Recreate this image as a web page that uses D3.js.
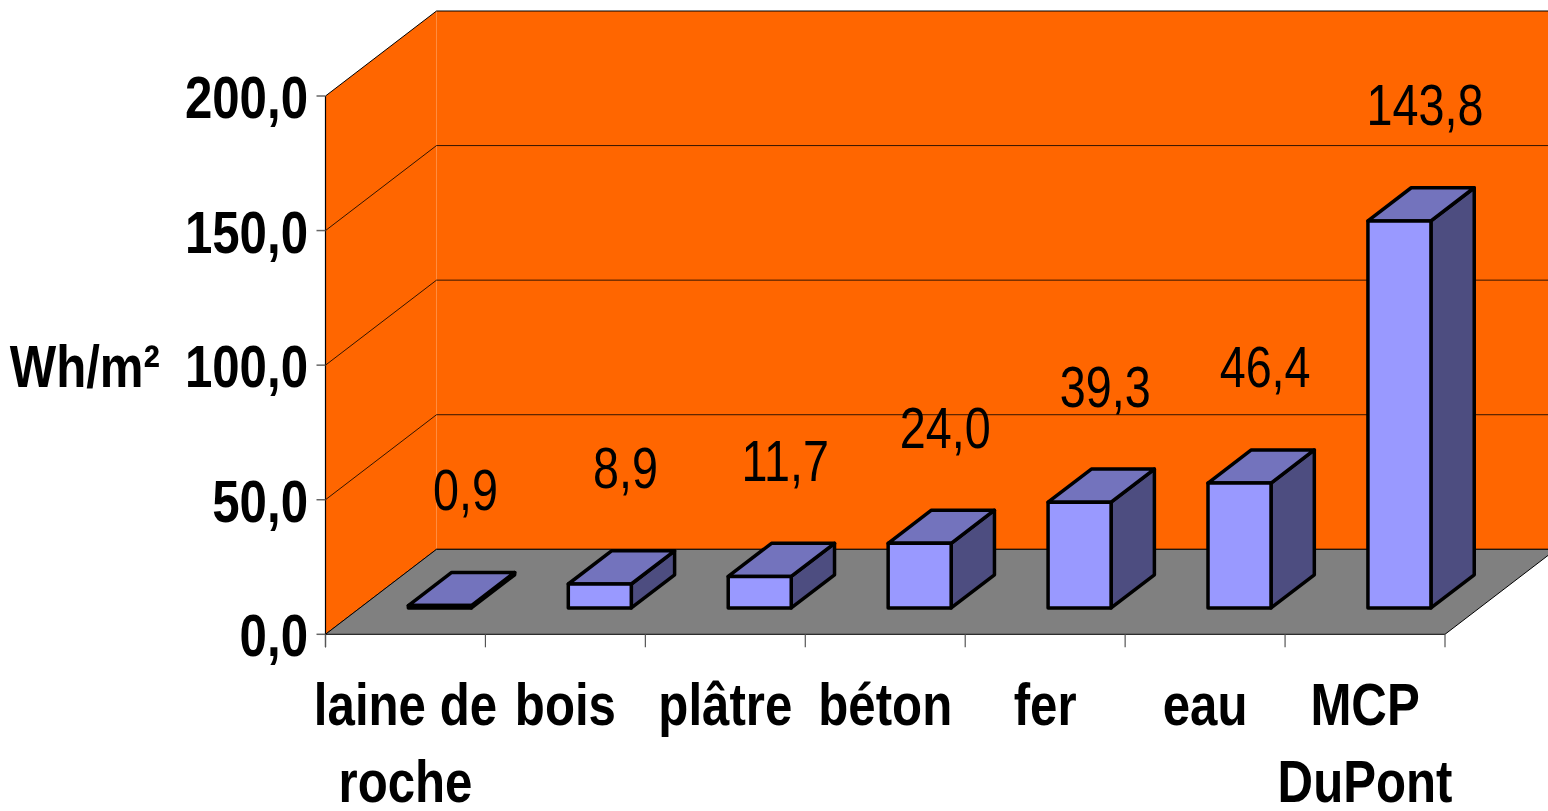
<!DOCTYPE html>
<html>
<head>
<meta charset="utf-8">
<script src="https://cdn.jsdelivr.net/npm/d3@7"></script>
<style>
  html, body { margin: 0; padding: 0; background: #ffffff; }
  svg { display: block; }
</style>
</head>
<body>
<script>
// ---- data ----
const categories = ["laine de roche", "bois", "plâtre", "béton", "fer", "eau", "MCP DuPont"];
const categoryLines = [["laine de", "roche"], ["bois"], ["plâtre"], ["béton"], ["fer"], ["eau"], ["MCP", "DuPont"]];
const values = [0.9, 8.9, 11.7, 24.0, 39.3, 46.4, 143.8];
const yTicks = [0, 50, 100, 150, 200];
const yTitle = "Wh/m²";

// ---- layout ----
const W = 1548, H = 811;
const font = "'Liberation Sans', Arial, sans-serif";
const condense = 0.82;   // horizontal squeeze to get a narrow face
const fr = d3.formatLocale({ decimal: ",", thousands: " ", grouping: [3], currency: ["", " €"] });
const fmt = fr.format(".1f");

// front plane scales
const x = d3.scaleBand().domain(categories).range([325.5, 1445]);
const y = d3.scaleLinear().domain([0, 200]).range([634.3, 96]);
// depth of the 3D box (front plane -> back wall)
const depth = { dx: 111, dy: -85 };
const barFront = 0.31, barBack = 0.70, barWidthFrac = 0.394;
const P = (px, py, d) => [px + d * depth.dx, py + d * depth.dy];

const colors = {
  wall: "#FF6600", floor: "#808080",
  front: "#9999FF", top: "#7373BD", side: "#4D4D80"
};

const svg = d3.select("body").append("svg")
  .attr("width", W).attr("height", H);

// places a condensed text whose anchor sits at (tx, ty)
function narrowText(parent, tx, ty, opts) {
  return parent.append("text")
    .attr("transform", `translate(${tx},${ty}) scale(${condense},1)`)
    .attr("x", 0).attr("y", 0)
    .attr("text-anchor", opts.anchor || "middle")
    .attr("font-family", font)
    .attr("font-weight", opts.weight || "normal")
    .attr("font-size", opts.size)
    .attr("fill", "#000");
}

const x0 = x.range()[0], x1 = x.range()[1];
const y0 = y(0), yMax = y(200);
const line = d3.line();

// side wall (left) and back wall
const wall = svg.append("g");
wall.append("path")
  .attr("d", line([[x0, y0], [x0, yMax], P(x0, yMax, 1), P(x0, y0, 1)]) + "Z")
  .attr("fill", colors.wall);
wall.append("path")
  .attr("d", line([P(x0, yMax, 1), P(x1, yMax, 1), P(x1, y0, 1), P(x0, y0, 1)]) + "Z")
  .attr("fill", colors.wall);

// gridlines: diagonal on the side wall, horizontal along the back wall
const grid = svg.append("g").attr("fill", "none").attr("stroke", "#000").attr("stroke-width", 1);
yTicks.forEach(v => {
  grid.append("path")
    .attr("d", line([[x0, y(v)], P(x0, y(v), 1), P(x1, y(v), 1)]))
    .attr("stroke-opacity", v === 200 ? 1 : 0.8);
});

// floor
svg.append("path")
  .attr("d", line([[x0, y0], P(x0, y0, 1), P(x1, y0, 1), [x1, y0]]) + "Z")
  .attr("fill", colors.floor)
  .attr("stroke", "#000").attr("stroke-width", 1);

// axes: vertical value axis line with ticks, category ticks under the floor
const axes = svg.append("g");
axes.append("line")
  .attr("x1", x0).attr("x2", x0).attr("y1", yMax).attr("y2", y0 + 13)
  .attr("stroke", "#000").attr("stroke-width", 1.2);
axes.selectAll(".ytick").data(yTicks).join("line")
  .attr("x1", x0 - 9).attr("x2", x0).attr("y1", d => y(d)).attr("y2", d => y(d))
  .attr("stroke", "#666").attr("stroke-width", 1.5);
const tickXs = categories.map(c => x(c)).concat([x1]);
axes.selectAll(".xtick").data(tickXs).join("line")
  .attr("x1", d => d).attr("x2", d => d).attr("y1", y0).attr("y2", y0 + 13)
  .attr("stroke", "#555").attr("stroke-width", 1.2);

// value tick labels
yTicks.forEach(v => {
  narrowText(axes, 308, y(v) + 22, { anchor: "end", weight: "bold", size: 60 }).text(fmt(v));
});

// axis title
narrowText(svg, 160, y(100) + 22, { anchor: "end", weight: "bold", size: 60 }).text(yTitle);

// category labels
const catG = svg.append("g");
categories.forEach((c, i) => {
  const cx = x(c) + x.bandwidth() / 2;
  const t = narrowText(catG, cx, 725, { anchor: "middle", weight: "bold", size: 60 });
  categoryLines[i].forEach((ln, k) => {
    t.append("tspan").attr("x", 0).attr("dy", k === 0 ? 0 : 77).text(ln);
  });
});

// 3D columns
const bw = x.bandwidth() * barWidthFrac;
const bars = svg.append("g")
  .attr("stroke", "#000").attr("stroke-width", 3.5).attr("stroke-linejoin", "round");
categories.forEach((c, i) => {
  const v = values[i];
  const cx = x(c) + x.bandwidth() / 2;
  const l = cx - bw / 2, r = cx + bw / 2;
  const fBL = P(l, y(0), barFront), fBR = P(r, y(0), barFront);
  const fTL = P(l, y(v), barFront), fTR = P(r, y(v), barFront);
  const bTL = P(l, y(v), barBack), bTR = P(r, y(v), barBack), bBR = P(r, y(0), barBack);
  const g = bars.append("g");
  g.append("path").attr("d", line([fBR, bBR, bTR, fTR]) + "Z").attr("fill", colors.side);
  g.append("path").attr("d", line([fTL, fTR, bTR, bTL]) + "Z").attr("fill", colors.top);
  g.append("path").attr("d", line([fBL, fBR, fTR, fTL]) + "Z").attr("fill", colors.front);
});

// value labels
const valG = svg.append("g");
categories.forEach((c, i) => {
  const cx = x(c) + x.bandwidth() / 2 + 60;
  narrowText(valG, cx, y(values[i]) - 122, { anchor: "middle", size: 57 }).text(fmt(values[i]));
});
</script>
</body>
</html>
